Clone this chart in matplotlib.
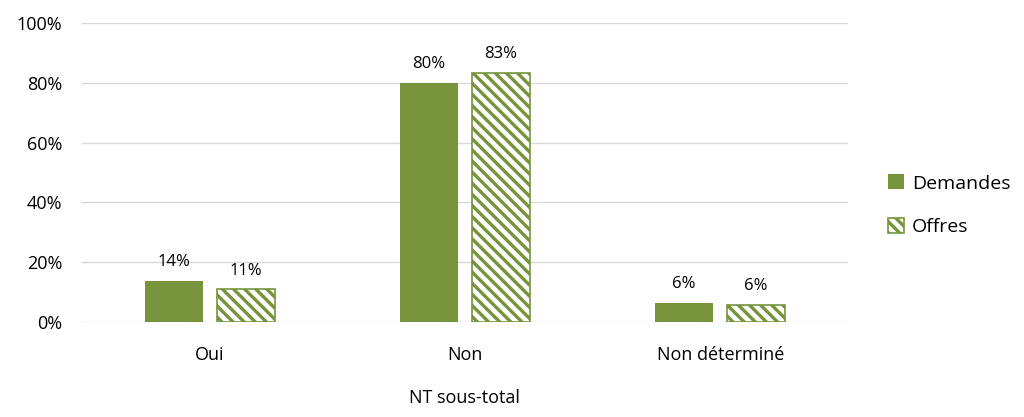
import numpy as np
import matplotlib.pyplot as plt
from matplotlib.ticker import FuncFormatter

plt.rcParams['font.family'] = ['Open Sans', 'DejaVu Sans']
plt.rcParams['hatch.linewidth'] = 2.4
plt.rcParams['hatch.color'] = '#77933C'

# — Data —
categories = ["Oui", "Non", "Non déterminé"]
demandes = [13.7, 80.0, 6.4]
offres = [11.0, 83.3, 5.7]
green = "#77933C"

fig = plt.figure(figsize=(10.24, 4.17), dpi=100)
ax = fig.add_axes([0.080, 0.228, 0.748, 0.717])

x = np.arange(len(categories)) + 0.5
w = 0.227
off = 0.141

b1 = ax.bar(x - off, demandes, w, color=green, label="Demandes", zorder=3)
b2 = ax.bar(x + off, offres, w, facecolor="white", edgecolor=green,
            hatch="\\\\\\", linewidth=1.2, label="Offres", zorder=3)

for bars, vals in ((b1, demandes), (b2, offres)):
    for r, v in zip(bars, vals):
        ax.text(r.get_x() + r.get_width() / 2, v + 3.5, f"{round(v):d}%",
                ha="center", va="bottom", fontsize=12, color="#000000")

ax.set_xlim(0, 3)
ax.set_ylim(0, 100)
ax.set_yticks(np.arange(0, 101, 20))
ax.yaxis.set_major_formatter(FuncFormatter(lambda v, p: f"{v:.0f}%"))
ax.set_xticks(x)
ax.set_xticklabels(categories)
ax.tick_params(axis="both", length=0, labelsize=13, colors="#000000")
ax.tick_params(axis="x", pad=17)
ax.tick_params(axis="y", pad=14)
ax.grid(axis="y", color="#d9d9d9", linewidth=1, zorder=0)
for s in ax.spines.values():
    s.set_visible(False)
ax.set_xlabel("NT sous-total", fontsize=13, labelpad=18)

ax.legend(loc="center left", bbox_to_anchor=(1.03, 0.39), frameon=False,
          fontsize=14, handlelength=0.8, handleheight=0.8,
          handletextpad=0.4, labelspacing=1.3)

fig.savefig("out.png", dpi=100)
